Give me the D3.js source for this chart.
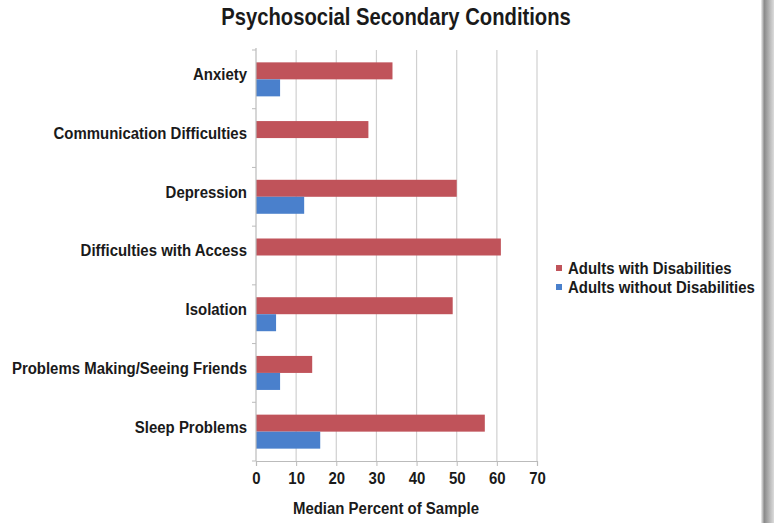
<!DOCTYPE html>
<html>
<head>
<meta charset="utf-8">
<script src="https://cdn.jsdelivr.net/npm/d3@7"></script>
<style>
  body { margin: 0; background: #fff; }
  text { font-family: "Liberation Sans", Arial, sans-serif; font-weight: bold; fill: #1a1a1a; }
</style>
</head>
<body>
<svg width="774" height="523"></svg>
<script>
// data
var categories = ["Anxiety", "Communication Difficulties", "Depression", "Difficulties with Access",
    "Isolation", "Problems Making/Seeing Friends", "Sleep Problems"];
var withDisabilities = [34, 28, 50, 61, 49, 14, 57];
var withoutDisabilities = [6, 0, 12, 0, 5, 6, 16];
var seriesNames = ["Adults with Disabilities", "Adults without Disabilities"];
var seriesColours = ["#c0535a", "#4a80cc"];
var xTicks = [0, 10, 20, 30, 40, 50, 60, 70];

var svg = d3.select("svg"),
    width = +svg.attr("width"),
    height = +svg.attr("height");

var plotLeft = 256, plotRight = 537, plotTop = 50, plotBottom = 461;
var squeeze = 0.88;   // text in the picture is a bit condensed

var x = d3.scaleLinear().domain([0, 70]).range([plotLeft, plotRight]);
var y = d3.scaleBand().domain(categories).range([plotTop, plotBottom]);
var barH = 17;

// puts a text at (px, py) and narrows it around that point
function placeText(sel, px, py) {
    sel.attr("transform", function (d, i) {
        var tx = typeof px == "function" ? px(d, i) : px;
        var ty = typeof py == "function" ? py(d, i) : py;
        return "translate(" + tx + "," + ty + ") scale(" + squeeze + ",1)";
    });
}

// right-edge shadow
var grad = svg.append("defs").append("linearGradient").attr("id", "shade");
grad.append("stop").attr("offset", "0%").attr("stop-color", "#f0f0f0");
grad.append("stop").attr("offset", "25%").attr("stop-color", "#8a8a8a");
grad.append("stop").attr("offset", "100%").attr("stop-color", "#dcdcdc");
svg.append("rect").attr("x", 761).attr("y", 0).attr("width", 13).attr("height", height)
    .attr("fill", "url(#shade)");

// gridlines
svg.append("g").selectAll("line").data(xTicks.slice(1)).enter().append("line")
    .attr("x1", function (d) { return x(d); })
    .attr("x2", function (d) { return x(d); })
    .attr("y1", plotTop).attr("y2", plotBottom)
    .attr("stroke", "#d0d0d0").attr("stroke-width", 1.2);

// bars
var rows = svg.append("g").selectAll("g").data(categories).enter().append("g");
rows.append("rect")
    .attr("x", x(0))
    .attr("y", function (d) { return y(d) + y.bandwidth() / 2 - barH; })
    .attr("width", function (d, i) { return x(withDisabilities[i]) - x(0); })
    .attr("height", barH)
    .attr("fill", seriesColours[0]);
rows.append("rect")
    .attr("x", x(0))
    .attr("y", function (d) { return y(d) + y.bandwidth() / 2; })
    .attr("width", function (d, i) { return x(withoutDisabilities[i]) - x(0); })
    .attr("height", barH)
    .attr("fill", seriesColours[1]);

// axes
var xAxis = svg.append("g").attr("transform", "translate(0," + plotBottom + ")")
    .call(d3.axisBottom(x).tickValues(xTicks).tickSize(5).tickPadding(6));
xAxis.select(".domain").attr("stroke", "#bbb").attr("stroke-width", 1.2);
xAxis.selectAll(".tick line").attr("stroke", "#bbb");
xAxis.selectAll(".tick text").style("font-size", "17px").attr("fill", "#1a1a1a")
    .attr("y", null).attr("dy", null)
    .attr("transform", "translate(0,23) scale(" + squeeze + ",1)");

var yTicks = d3.range(categories.length + 1).map(function (i) { return plotTop + i * y.step(); });
svg.append("line").attr("x1", plotLeft).attr("x2", plotLeft).attr("y1", plotTop - 2).attr("y2", plotBottom)
    .attr("stroke", "#bbb").attr("stroke-width", 1.2);
svg.append("g").selectAll("line").data(yTicks).enter().append("line")
    .attr("x1", plotLeft - 4).attr("x2", plotLeft)
    .attr("y1", function (d) { return d; }).attr("y2", function (d) { return d; })
    .attr("stroke", "#bbb");

var catLabels = svg.append("g").selectAll("text").data(categories).enter().append("text")
    .attr("dy", "0.35em")
    .attr("text-anchor", "end")
    .style("font-size", "17px")
    .text(function (d) { return d; });
placeText(catLabels, plotLeft - 9, function (d) { return y(d) + y.bandwidth() / 2 - 5; });

// titles
placeText(svg.append("text").attr("text-anchor", "middle")
    .style("font-size", "23px").text("Psychosocial Secondary Conditions"), 396, 25);
placeText(svg.append("text").attr("text-anchor", "middle")
    .style("font-size", "17px").text("Median Percent of Sample"), 386, 514);

// legend
var legend = svg.append("g").selectAll("g").data(seriesNames).enter().append("g")
    .attr("transform", function (d, i) { return "translate(556," + (268 + i * 19) + ")"; });
legend.append("rect").attr("x", 0).attr("y", -3).attr("width", 6).attr("height", 6)
    .attr("fill", function (d, i) { return seriesColours[i]; });
var legendText = legend.append("text").attr("dy", "0.35em")
    .style("font-size", "17px").text(function (d) { return d; });
placeText(legendText, 12, 0);
</script>
</body>
</html>
